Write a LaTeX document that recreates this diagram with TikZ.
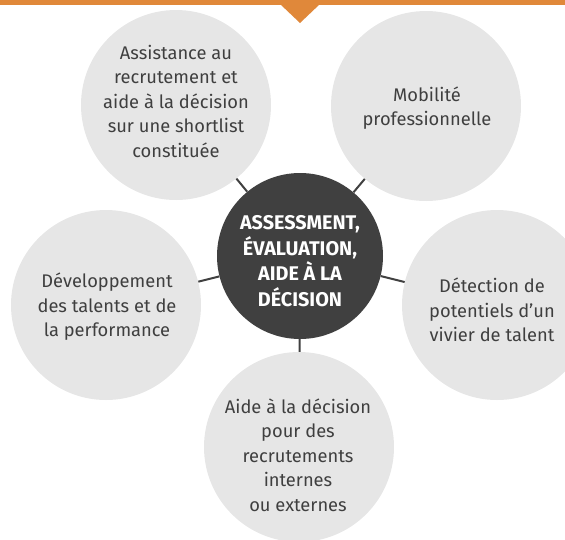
\documentclass[tikz,border=0pt]{standalone}
\usepackage{fontspec}
\setmainfont{Fira Sans}
\definecolor{orng}{HTML}{E0883A}
\definecolor{lgray}{HTML}{E6E6E6}
\definecolor{dgray}{HTML}{404040}
\definecolor{txtgray}{HTML}{3F3F3F}
\tikzset{
  outer/.style={circle, fill=lgray, minimum size=190pt, inner sep=0pt},
  outertxt/.style={align=center, text=txtgray, font=\fontsize{18.3}{24.5}\selectfont, inner sep=0pt},
  core/.style={circle, fill=dgray, minimum size=166pt, inner sep=0pt},
  coretxt/.style={align=center, text=white, font=\fontsize{19.8}{25.5}\selectfont\bfseries, inner sep=0pt},
  link/.style={draw=dgray, line width=2pt}
}
\begin{document}
\begin{tikzpicture}[x=1pt,y=-1pt]
\useasboundingbox (0,0) rectangle (565,539);
\begin{scope}
\clip (0,0) rectangle (565,539);
% top bar
\fill[orng] (0,0) rectangle (565,4.5);
\fill[orng] (280,4) -- (320,4) -- (300,23) -- cycle;
% circles
\node[outer] (tl) at (176,105) {};
\node[outer] (tr) at (426,106) {};
\node[outer] (l) at (106,305) {};
\node[outer] (r) at (497,305) {};
\node[outer] (b) at (299,447) {};
\node[core] (c) at (300,256) {};
% connectors
\draw[link] (c) -- (tl);
\draw[link] (c) -- (tr);
\draw[link] (c) -- (l);
\draw[link] (c) -- (r);
\draw[link] (c) -- (b);
% texts
\node[outertxt] (ttl) at (176,101) {Assistance au\\recrutement et\\aide à la décision\\sur une shortlist\\constituée};
\node[outertxt] (ttr) at (427,108) {Mobilité\\professionnelle};
\node[outertxt] (tl2) at (107,307) {Développement\\des talents et de\\la performance};
\node[outertxt] (tr2) at (492,310) {Détection de\\potentiels d’un\\vivier de talent};
\node[outertxt] (tb) at (298,455) {Aide à la décision\\pour des\\recrutements\\internes\\ou externes};
\node[coretxt] (tc) at (300,261) {ASSESSMENT,\\ÉVALUATION,\\AIDE À LA\\DÉCISION};
\end{scope}
\end{tikzpicture}
\end{document}
